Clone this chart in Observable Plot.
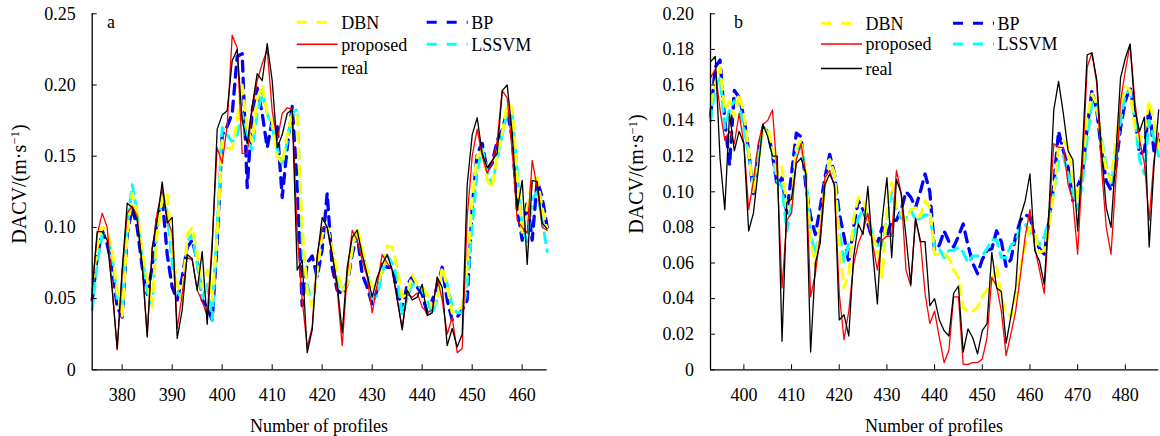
<!DOCTYPE html>
<html><head><meta charset="utf-8">
<script src="https://cdn.jsdelivr.net/npm/d3@7"></script>
<script src="https://cdn.jsdelivr.net/npm/@observablehq/plot@0.6"></script>
<style>
body{margin:0;background:#fff;}
#wrap{position:relative;width:1160px;height:436px;overflow:hidden;background:#fff;font-family:"Liberation Serif",serif;}
#wrap svg{position:absolute;top:0;}
#wrap svg text{font-family:"Liberation Serif",serif !important;fill:#000;}
</style></head><body><div id="wrap"></div>
<script>
// ---------- Panel a data (profiles 374..465) ----------
const profilesA = d3.range(374, 466);
const realA = [0.056,0.097,0.097,0.091,0.056,0.015,0.070,0.117,0.114,0.105,
0.074,0.023,0.086,0.105,0.132,0.103,0.107,0.022,0.042,0.081,
0.078,0.056,0.083,0.032,0.086,0.169,0.179,0.182,0.217,0.225,
0.175,0.159,0.185,0.208,0.203,0.229,0.203,0.156,0.165,0.180,
0.183,0.070,0.077,0.012,0.028,0.079,0.107,0.100,0.081,0.060,
0.026,0.072,0.093,0.098,0.081,0.067,0.051,0.065,0.074,0.081,
0.070,0.050,0.028,0.056,0.049,0.051,0.060,0.038,0.040,0.065,
0.058,0.017,0.029,0.016,0.025,0.130,0.165,0.177,0.152,0.142,
0.147,0.152,0.196,0.200,0.166,0.112,0.133,0.074,0.133,0.132,
0.103,0.099];
const proposedA = [0.056,0.095,0.110,0.100,0.058,0.014,0.070,0.110,0.115,0.108,
0.072,0.025,0.084,0.110,0.127,0.106,0.096,0.029,0.053,0.079,
0.077,0.056,0.048,0.038,0.091,0.156,0.145,0.172,0.235,0.226,
0.152,0.152,0.183,0.203,0.215,0.225,0.182,0.161,0.180,0.184,
0.183,0.096,0.049,0.016,0.030,0.081,0.100,0.100,0.081,0.056,
0.017,0.067,0.098,0.091,0.077,0.065,0.040,0.060,0.081,0.075,
0.070,0.049,0.030,0.053,0.051,0.054,0.044,0.040,0.042,0.065,
0.049,0.025,0.037,0.012,0.015,0.107,0.150,0.169,0.150,0.138,
0.145,0.161,0.196,0.191,0.154,0.105,0.100,0.096,0.147,0.128,
0.100,0.098];
const bpA = [0.049,0.079,0.098,0.088,0.072,0.044,0.037,0.095,0.114,0.100,
0.072,0.053,0.072,0.107,0.121,0.081,0.058,0.049,0.065,0.086,
0.091,0.077,0.049,0.044,0.035,0.090,0.165,0.171,0.180,0.220,
0.222,0.128,0.182,0.198,0.180,0.156,0.175,0.171,0.121,0.156,
0.185,0.130,0.045,0.075,0.080,0.065,0.085,0.124,0.072,0.056,
0.053,0.060,0.081,0.095,0.067,0.058,0.046,0.056,0.074,0.072,
0.072,0.056,0.042,0.060,0.065,0.058,0.053,0.040,0.049,0.058,
0.072,0.049,0.035,0.037,0.042,0.049,0.114,0.152,0.159,0.140,
0.145,0.161,0.168,0.182,0.163,0.114,0.091,0.119,0.091,0.133,
0.121,0.100];
const dbnA = [0.060,0.086,0.100,0.098,0.084,0.056,0.037,0.095,0.124,0.110,
0.084,0.063,0.044,0.095,0.120,0.124,0.086,0.060,0.049,0.095,
0.100,0.081,0.058,0.070,0.049,0.095,0.161,0.156,0.155,0.175,
0.200,0.170,0.160,0.190,0.200,0.180,0.175,0.150,0.145,0.165,
0.180,0.178,0.100,0.055,0.045,0.070,0.095,0.100,0.085,0.070,
0.055,0.060,0.085,0.100,0.085,0.070,0.058,0.060,0.070,0.087,
0.086,0.072,0.051,0.053,0.067,0.060,0.058,0.053,0.044,0.049,
0.072,0.058,0.040,0.042,0.044,0.072,0.119,0.150,0.154,0.133,
0.128,0.150,0.166,0.187,0.184,0.135,0.096,0.114,0.133,0.135,
0.114,0.098];
const lssvmA = [0.042,0.075,0.095,0.095,0.080,0.050,0.040,0.100,0.130,0.110,
0.080,0.055,0.045,0.100,0.125,0.110,0.075,0.055,0.050,0.090,
0.095,0.075,0.050,0.060,0.035,0.100,0.170,0.165,0.160,0.165,
0.180,0.160,0.155,0.180,0.195,0.180,0.170,0.155,0.145,0.160,
0.180,0.183,0.090,0.060,0.045,0.070,0.095,0.100,0.085,0.063,
0.055,0.062,0.085,0.095,0.082,0.070,0.050,0.052,0.068,0.080,
0.075,0.065,0.039,0.050,0.060,0.060,0.056,0.049,0.039,0.050,
0.070,0.060,0.045,0.040,0.040,0.060,0.100,0.140,0.155,0.140,
0.130,0.148,0.165,0.180,0.180,0.140,0.100,0.090,0.120,0.125,
0.105,0.083];
const yTicksA = [0, 0.05, 0.10, 0.15, 0.20, 0.25];
const yTickLabelsA = ["0", "0.05", "0.10", "0.15", "0.20", "0.25"];
const xTicksA = [380, 390, 400, 410, 420, 430, 440, 450, 460];

// ---------- Panel b data (profiles 393..487) ----------
const profilesB = d3.range(393, 488);
const realB = [0.173,0.176,0.119,0.090,0.144,0.123,0.134,0.127,0.078,0.088,
0.112,0.138,0.131,0.120,0.120,0.016,0.094,0.096,0.116,0.119,
0.110,0.010,0.060,0.071,0.104,0.110,0.104,0.028,0.031,0.019,
0.063,0.082,0.076,0.103,0.067,0.037,0.084,0.108,0.063,0.107,
0.099,0.075,0.048,0.085,0.072,0.072,0.036,0.040,0.028,0.022,
0.019,0.043,0.047,0.010,0.023,0.018,0.009,0.022,0.026,0.066,
0.046,0.044,0.015,0.030,0.046,0.086,0.095,0.110,0.067,0.061,
0.048,0.090,0.146,0.162,0.144,0.123,0.118,0.078,0.123,0.177,
0.178,0.163,0.123,0.091,0.080,0.120,0.164,0.175,0.183,0.146,
0.134,0.142,0.069,0.114,0.146];
const proposedB = [0.164,0.169,0.146,0.129,0.134,0.127,0.144,0.127,0.090,0.106,
0.127,0.138,0.140,0.146,0.110,0.046,0.084,0.088,0.118,0.127,
0.110,0.041,0.054,0.076,0.108,0.112,0.103,0.043,0.017,0.033,
0.059,0.071,0.078,0.088,0.071,0.056,0.073,0.075,0.075,0.112,
0.099,0.056,0.047,0.085,0.073,0.043,0.026,0.033,0.018,0.004,
0.011,0.041,0.041,0.003,0.003,0.004,0.004,0.006,0.018,0.052,
0.047,0.033,0.008,0.020,0.033,0.053,0.075,0.090,0.069,0.056,
0.043,0.086,0.127,0.125,0.125,0.104,0.095,0.065,0.114,0.170,
0.178,0.161,0.114,0.080,0.065,0.106,0.151,0.168,0.183,0.151,
0.129,0.116,0.084,0.118,0.133];
const bpB = [0.142,0.170,0.174,0.140,0.115,0.157,0.153,0.142,0.123,0.099,
0.123,0.136,0.134,0.121,0.103,0.108,0.088,0.110,0.133,0.131,
0.103,0.086,0.076,0.091,0.108,0.121,0.110,0.088,0.075,0.060,
0.080,0.095,0.090,0.082,0.073,0.071,0.080,0.075,0.084,0.084,
0.090,0.100,0.097,0.091,0.100,0.110,0.100,0.067,0.070,0.078,
0.072,0.069,0.075,0.082,0.070,0.060,0.054,0.062,0.067,0.068,
0.078,0.072,0.058,0.062,0.075,0.084,0.087,0.086,0.075,0.068,
0.065,0.084,0.104,0.134,0.123,0.114,0.095,0.103,0.110,0.136,
0.157,0.146,0.123,0.106,0.101,0.114,0.136,0.151,0.159,0.142,
0.121,0.123,0.148,0.123,0.129];
const dbnB = [0.149,0.161,0.170,0.146,0.151,0.142,0.155,0.144,0.123,0.099,
0.114,0.134,0.136,0.125,0.110,0.114,0.091,0.093,0.125,0.129,
0.110,0.073,0.058,0.080,0.103,0.118,0.110,0.071,0.046,0.054,
0.085,0.097,0.095,0.086,0.076,0.067,0.052,0.091,0.105,0.091,
0.088,0.084,0.090,0.091,0.086,0.095,0.091,0.065,0.065,0.065,
0.063,0.056,0.052,0.035,0.033,0.033,0.035,0.041,0.045,0.050,
0.058,0.041,0.032,0.030,0.042,0.058,0.070,0.080,0.077,0.066,
0.067,0.080,0.099,0.125,0.129,0.125,0.106,0.095,0.114,0.142,
0.155,0.149,0.129,0.112,0.106,0.129,0.149,0.159,0.157,0.136,
0.129,0.134,0.151,0.140,0.125];
const lssvmB = [0.140,0.159,0.164,0.136,0.146,0.151,0.149,0.136,0.121,0.103,
0.121,0.134,0.134,0.121,0.106,0.103,0.078,0.093,0.123,0.127,
0.110,0.076,0.065,0.078,0.104,0.118,0.110,0.078,0.061,0.071,
0.075,0.085,0.090,0.085,0.076,0.070,0.070,0.085,0.100,0.090,
0.085,0.085,0.090,0.084,0.085,0.087,0.087,0.069,0.068,0.063,
0.067,0.067,0.069,0.066,0.060,0.064,0.064,0.064,0.068,0.073,
0.073,0.063,0.063,0.070,0.072,0.080,0.082,0.077,0.075,0.070,
0.075,0.085,0.100,0.118,0.120,0.110,0.100,0.090,0.105,0.130,
0.150,0.148,0.130,0.115,0.105,0.120,0.140,0.155,0.157,0.140,
0.118,0.110,0.140,0.130,0.120];
const yTicksB = [0, 0.02, 0.04, 0.06, 0.08, 0.10, 0.12, 0.14, 0.16, 0.18, 0.20];
const yTickLabelsB = ["0", "0.02", "0.04", "0.06", "0.08", "0.10", "0.12", "0.14", "0.16", "0.18", "0.20"];
const xTicksB = [400, 410, 420, 430, 440, 450, 460, 470, 480];

// ---------- series styling ----------
const seriesNames = ["BP", "LSSVM", "DBN", "proposed", "real"];
const seriesColors = {DBN: "#ffff00", BP: "#0000ff", LSSVM: "#00ffff", proposed: "#ff0000", real: "#000000"};
const seriesWidth = {DBN: 3, BP: 3.3, LSSVM: 3, proposed: 1.3, real: 1.3};
const seriesDash = {DBN: "10,7", BP: "10,7", LSSVM: "10,7", proposed: null, real: null};

const wrap = d3.select("#wrap");
const H = 436, MT = 13.3, MB = 66.7, TICK = 5;

function panel(cfg) {
  const frameW = cfg.width - cfg.ml - cfg.mr;
  const frameH = H - MT - MB;
  const marks = [];
  for (const name of seriesNames) {
    const vals = cfg.series[name];
    const rows = vals.map((v, i) => ({x: cfg.x[i], y: v}));
    const opts = {x: "x", y: "y", stroke: seriesColors[name], strokeWidth: seriesWidth[name], strokeLinejoin: "round"};
    if (seriesDash[name]) opts.strokeDasharray = seriesDash[name];
    marks.push(Plot.line(rows, opts));
  }
  // axis lines
  marks.push(Plot.ruleY([cfg.yDomain[0]], {stroke: "#000", strokeWidth: 1.3}));
  marks.push(Plot.ruleX([cfg.x[0]], {stroke: "#000", strokeWidth: 1.3}));
  // inward ticks
  marks.push(Plot.tickY(cfg.yTicks, {y: d => d, stroke: "#000", insetRight: frameW - TICK}));
  marks.push(Plot.tickX(cfg.xTicks, {x: d => d, stroke: "#000", insetTop: frameH - TICK}));
  const chart = Plot.plot({
    width: cfg.width, height: H,
    marginLeft: cfg.ml, marginRight: cfg.mr, marginTop: MT, marginBottom: MB,
    x: {domain: [cfg.x[0], cfg.x[cfg.x.length - 1]], ticks: cfg.xTicks, tickSize: 0, tickPadding: 18, tickFormat: d => String(d), label: null},
    y: {domain: cfg.yDomain, ticks: cfg.yTicks, tickSize: 0, tickPadding: 16.5,
        tickFormat: d => cfg.yLabels[cfg.yTicks.indexOf(d)], label: null},
    style: {fontFamily: "Liberation Serif", fontSize: "18px", color: "#000", background: "transparent", overflow: "visible"},
    marks
  });
  chart.style.left = cfg.left + "px";
  wrap.node().appendChild(chart);
}

panel({x: profilesA, series: {real: realA, proposed: proposedA, BP: bpA, DBN: dbnA, LSSVM: lssvmA},
  yDomain: [0, 0.25], yTicks: yTicksA, yLabels: yTickLabelsA, xTicks: xTicksA,
  width: 560, ml: 91.7, mr: 13.3, left: 0});
panel({x: profilesB, series: {real: realB, proposed: proposedB, BP: bpB, DBN: dbnB, LSSVM: lssvmB},
  yDomain: [0, 0.20], yTicks: yTicksB, yLabels: yTickLabelsB, xTicks: xTicksB,
  width: 560, ml: 110, mr: 1.8, left: 600});

// ---------- overlay: panel letters, axis titles, legends ----------
const ov = wrap.append("svg").attr("width", 1160).attr("height", 436)
  .style("left", "0px").style("font-size", "18px");

const panelsText = [
  {letter: "a", lx: 107, ytx: 25.5, yty: 184, xtx: 319},
  {letter: "b", lx: 734, ytx: 643, yty: 174, xtx: 934}
];
for (const p of panelsText) {
  ov.append("text").attr("x", p.lx).attr("y", 28.3).text(p.letter);
  const t = ov.append("text").attr("transform", `translate(${p.ytx},${p.yty}) rotate(-90)`)
    .attr("text-anchor", "middle").style("font-size", "20px");
  t.append("tspan").text("DACV/(m·s");
  t.append("tspan").attr("dy", "-0.5em").style("font-size", "13px").text("−1");
  t.append("tspan").attr("dy", "0.33em").text(")");
  ov.append("text").attr("x", p.xtx).attr("y", 432).attr("text-anchor", "middle").text("Number of profiles");
}

const legendItems = [
  {name: "DBN", col: 0, row: 0},
  {name: "proposed", col: 0, row: 1},
  {name: "real", col: 0, row: 2},
  {name: "BP", col: 1, row: 0},
  {name: "LSSVM", col: 1, row: 1}
];
const legendLayout = [
  {cols: [296.7, 426.7], rows: [22.3, 44.3, 67.5]},
  {cols: [821, 953], rows: [23.3, 44, 68.5]}
];
for (const L of legendLayout) {
  for (const it of legendItems) {
    const x0 = L.cols[it.col], y0 = L.rows[it.row];
    const ln = ov.append("line").attr("x1", x0).attr("x2", x0 + 41).attr("y1", y0).attr("y2", y0)
      .attr("stroke", seriesColors[it.name])
      .attr("stroke-width", seriesDash[it.name] ? 3 : 1.5);
    if (seriesDash[it.name]) ln.attr("stroke-dasharray", "10,10");
    ov.append("text").attr("x", x0 + 44.5).attr("y", y0).attr("dy", "0.35em").text(it.name);
  }
}
</script></body></html>
